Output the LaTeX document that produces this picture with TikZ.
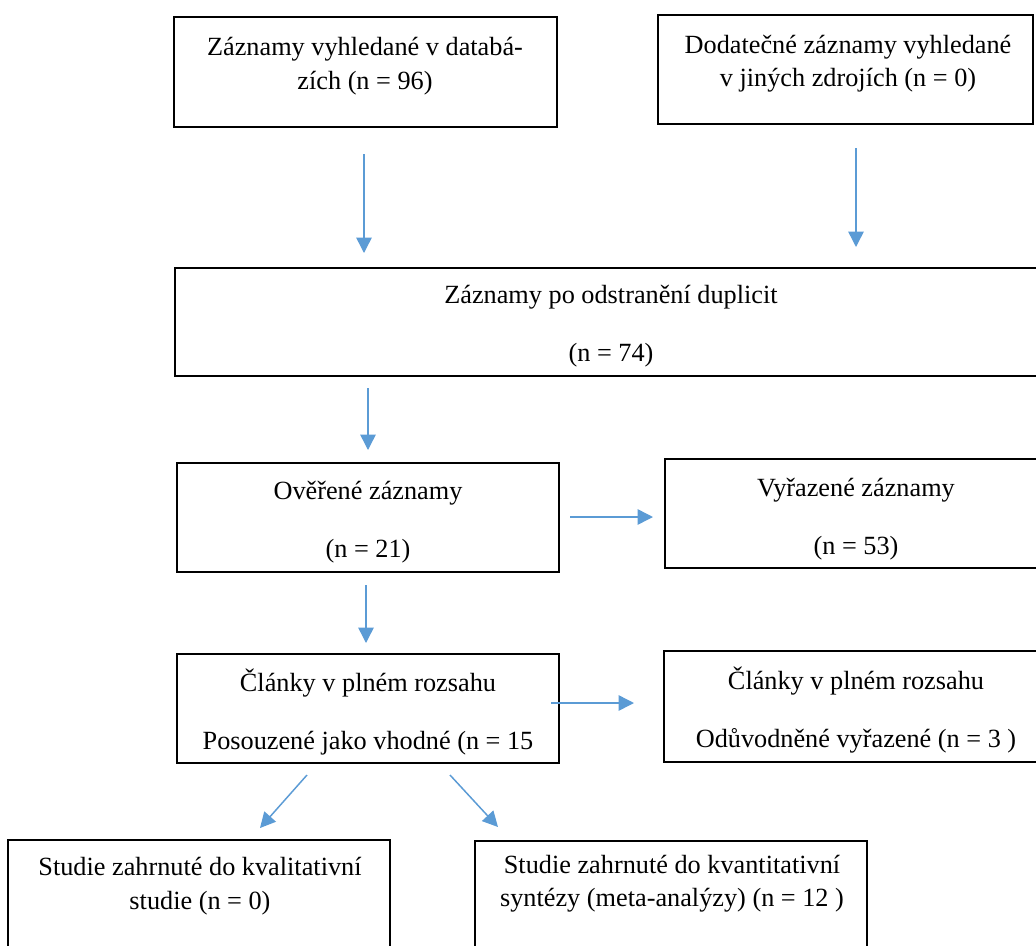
\documentclass[tikz,border=0pt]{standalone}
\usepackage{fontspec}
\setmainfont{Liberation Serif}
\usetikzlibrary{arrows.meta}
\definecolor{arrblue}{HTML}{5B9BD5}
\tikzset{
  box/.style={draw=black, line width=2.1pt, inner sep=0pt, fill=none},
  txt/.style={align=center, inner sep=0pt, font=\fontsize{19.7}{25}\selectfont},
  arr/.style={draw=arrblue, line width=1.1pt, -{Triangle[length=11.5pt,width=11.5pt]}, arrblue}
}
\begin{document}
\begin{tikzpicture}[x=0.75pt, y=-0.75pt]
\useasboundingbox (0,0) rectangle (1036,946);
\clip (0,0) rectangle (1036,946);
\fill[white] (0,0) rectangle (1036,946);
% boxes
\node[box, minimum width=287.25pt, minimum height=82.5pt] (b1) at (365.5,72) {};
\node[box, minimum width=281.25pt, minimum height=81.75pt] (b2) at (845.5,69.5) {};
\node[box, minimum width=654pt, minimum height=81pt] (b3) at (611,322) {};
\node[box, minimum width=286.5pt, minimum height=81.75pt] (b4) at (368,517.5) {};
\node[box, minimum width=286.5pt, minimum height=81.75pt] (b5) at (856,513.5) {};
\node[box, minimum width=286.5pt, minimum height=81.75pt] (b6) at (368,708.5) {};
\node[box, minimum width=287.25pt, minimum height=83.25pt] (b7) at (855.5,706.5) {};
\node[box, minimum width=286.5pt, minimum height=82.5pt] (b8) at (199,895) {};
\node[box, minimum width=294pt, minimum height=81.75pt] (b9) at (671,895.5) {};
% texts
\node[txt] (t1) at (365,66) {Záznamy vyhledané v databá-\\zích (n = 96)};
\node[txt] (t2) at (848,64) {Dodatečné záznamy vyhledané\\v jiných zdrojích (n = 0)};
\node[txt] (t3) at (611,326) {Záznamy po odstranění duplicit\\[18pt](n = 74)};
\node[txt] (t4) at (368,522) {Ověřené záznamy\\[18pt](n = 21)};
\node[txt] (t5) at (856,519) {Vyřazené záznamy\\[18pt](n = 53)};
\node[txt] (t6) at (368,712) {Články v plném rozsahu\\[18pt]Posouzené jako vhodné (n = 15};
\node[txt] (t7) at (856,710) {Články v plném rozsahu\\[18pt]Odůvodněné vyřazené (n = 3 )};
\node[txt] (t8) at (200,886) {Studie zahrnuté do kvalitativní\\studie (n = 0)};
\node[txt] (t9) at (672,884) {Studie zahrnuté do kvantitativní\\syntézy (meta-analýzy) (n = 12 )};
% arrow end points
\coordinate (a1s) at (364,154); \coordinate (a1e) at (364,253);
\coordinate (a2s) at (856,148); \coordinate (a2e) at (856,247);
\coordinate (a3s) at (368,388); \coordinate (a3e) at (368,450);
\coordinate (a4s) at (570,517); \coordinate (a4e) at (653,517);
\coordinate (a5s) at (366,585); \coordinate (a5e) at (366,643);
\coordinate (a6s) at (551,703); \coordinate (a6e) at (634,703);
\coordinate (a7s) at (307,775); \coordinate (a7e) at (260,828);
\coordinate (a8s) at (450,775); \coordinate (a8e) at (498,827);
\draw[arr] (a1s) -- (a1e);
\draw[arr] (a2s) -- (a2e);
\draw[arr] (a3s) -- (a3e);
\draw[arr] (a4s) -- (a4e);
\draw[arr] (a5s) -- (a5e);
\draw[arr] (a6s) -- (a6e);
\draw[arr] (a7s) -- (a7e);
\draw[arr] (a8s) -- (a8e);
\end{tikzpicture}
\end{document}
